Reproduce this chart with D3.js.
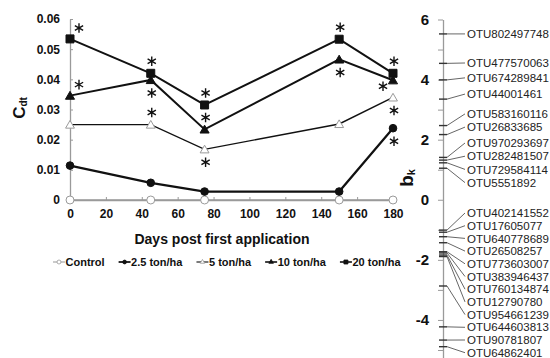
<!DOCTYPE html>
<html>
<head>
<meta charset="utf-8">
<script src="https://cdn.jsdelivr.net/npm/d3@7"></script>
<style>
body { margin: 0; background: #fff; }
svg { display: block; font-family: "Liberation Sans", Arial, sans-serif; }
</style>
</head>
<body>
<svg width="550" height="358"></svg>
<script>
// ~~~~~~ DATA ~~~~~~

// Left panel: C_dt per treatment over days
var days = [0, 45, 75, 150, 180];
var seriesNames = ["Control", "2.5 ton/ha", "5 ton/ha", "10 ton/ha", "20 ton/ha"];
var control = [0, 0, 0, 0, 0];
var ton2_5  = [0.0114, 0.0057, 0.0028, 0.0028, 0.0238];
var ton5    = [0.0250, 0.0250, 0.0168, 0.0252, 0.0340];
var ton10   = [0.0346, 0.0398, 0.0234, 0.0466, 0.0397];
var ton20   = [0.0534, 0.0420, 0.0315, 0.0533, 0.0420];
var xTicks = [0, 20, 40, 60, 80, 100, 120, 140, 160, 180];
var yTicks = [0, 0.01, 0.02, 0.03, 0.04, 0.05, 0.06];

// significance stars: [series index, day index, side]
var stars = [
	[4, 0, "upRight"], [3, 0, "upRight"],
	[4, 1, "up"], [3, 1, "down"], [2, 1, "up"],
	[4, 2, "up"], [3, 2, "up"], [2, 2, "down"],
	[4, 3, "up"], [3, 3, "down"],
	[4, 4, "up"], [3, 4, "downLeft"], [2, 4, "down"], [1, 4, "down"]
];

// Right panel: b_k per OTU
var otuNames = ["OTU802497748", "OTU477570063", "OTU674289841", "OTU44001461",
	"OTU583160116", "OTU26833685", "OTU970293697", "OTU282481507", "OTU729584114",
	"OTU5551892", "OTU402141552", "OTU17605077", "OTU640778689", "OTU26508257",
	"OTU773603007", "OTU383946437", "OTU760134874", "OTU12790780", "OTU954661239",
	"OTU644603813", "OTU90781807", "OTU64862401"];
var bkValues = [5.52, 4.54, 3.99, 3.35, 2.47, 2.17, 1.41, 1.32, 1.23, 1.05,
	-1.01, -1.08, -1.23, -1.43, -1.73, -1.77, -1.84, -1.89, -2.87, -4.23, -4.67, -4.89];
var bkTicks = [-5, -4, -3, -2, -1, 0, 1, 2, 3, 4, 5, 6];

// ~~~~~~ SVG ~~~~~~
var svg = d3.select("svg");
var ink = "#111", grey = "#9a9a9a";

// ~~~~~~ LEFT PANEL ~~~~~~
var x = d3.scaleLinear().domain([0, 180]).range([70, 393]);
var y = d3.scaleLinear().domain([0, 0.06]).range([200, 19]);

var left_g = svg.append("g");

var yAxis = left_g.append("g")
	.attr("transform", "translate(" + x(0) + ",0)")
	.call(d3.axisLeft(y).tickValues(yTicks).tickSizeInner(-3).tickSizeOuter(0).tickPadding(10)
		.tickFormat(function(d) { return d === 0 ? "0" : d3.format(".2f")(d); }));

var xAxis = left_g.append("g")
	.attr("transform", "translate(0," + y(0) + ")")
	.call(d3.axisBottom(x).tickValues(xTicks).tickSizeInner(-3).tickSizeOuter(0).tickPadding(9));

[xAxis, yAxis].forEach(function(a) {
	a.select(".domain").attr("stroke", grey).attr("stroke-width", 1.3);
	a.selectAll(".tick line").attr("stroke", grey);
	a.selectAll(".tick text")
		.attr("fill", ink)
		.style("font-weight", "bold")
		.style("font-size", "12px");
});

// axis titles
left_g.append("text")
	.attr("x", 222)
	.attr("y", 244)
	.attr("text-anchor", "middle")
	.style("font", "bold 14px 'Liberation Sans', Arial, sans-serif")
	.attr("fill", ink)
	.text("Days post first application");

var cLabel = left_g.append("text")
	.attr("transform", "translate(25,108) rotate(-90)")
	.attr("text-anchor", "middle")
	.attr("fill", ink)
	.style("font-weight", "bold");
cLabel.append("tspan").style("font-size", "17px").text("C");
cLabel.append("tspan").style("font-size", "10px").attr("dy", 2).text("dt");

// series styling
var seriesData = [control, ton2_5, ton5, ton10, ton20];
var styles = [
	{line: grey, width: 1.3, symbol: d3.symbolCircle, size: 50, fill: "#fff", stroke: grey},
	{line: ink, width: 2.2, symbol: d3.symbolCircle, size: 46, fill: ink, stroke: ink},
	{line: ink, width: 1.4, symbol: d3.symbolTriangle, size: 34, fill: "#fff", stroke: grey},
	{line: ink, width: 2, symbol: d3.symbolTriangle, size: 36, fill: ink, stroke: ink},
	{line: ink, width: 2, symbol: d3.symbolSquare, size: 64, fill: ink, stroke: ink}
];

var drawLine = d3.line()
	.x(function(d, i) { return x(days[i]); })
	.y(function(d) { return y(d); });

seriesData.forEach(function(vals, s) {
	var st = styles[s];
	left_g.append("path")
		.attr("d", drawLine(vals))
		.attr("fill", "none")
		.attr("stroke", st.line)
		.attr("stroke-width", st.width);
});

seriesData.forEach(function(vals, s) {
	var st = styles[s];
	left_g.selectAll(".pt" + s)
		.data(vals)
		.enter()
		.append("path")
		.attr("class", "pt" + s)
		.attr("transform", function(d, i) {
			var dy = st.symbol === d3.symbolTriangle ? 1 : 0;
			return "translate(" + x(days[i]) + "," + (y(d) + dy) + ")";
		})
		.attr("d", d3.symbol().type(st.symbol).size(st.size))
		.attr("fill", st.fill)
		.attr("stroke", st.stroke)
		.attr("stroke-width", 1);
});

// asterisks
var starOffset = {
	up: [1, -12], down: [1, 13], upRight: [9, -11], downLeft: [-10, 6]
};
left_g.selectAll(".star")
	.data(stars)
	.enter()
	.append("path")
	.attr("class", "star")
	.attr("transform", function(d) {
		var off = starOffset[d[2]];
		var v = seriesData[d[0]][d[1]];
		return "translate(" + (x(days[d[1]]) + off[0]) + "," + (y(v) + off[1]) + ")";
	})
	.attr("d", d3.symbol().type(d3.symbolAsterisk).size(64))
	.attr("fill", "none")
	.attr("stroke", ink)
	.attr("stroke-width", 1.4);

// legend
var legend_g = left_g.append("g").attr("transform", "translate(53,262)");
var lx = 0;
seriesNames.forEach(function(name, s) {
	var st = styles[s];
	var item = legend_g.append("g").attr("transform", "translate(" + lx + ",0)");
	item.append("line")
		.attr("x1", 0).attr("x2", 12)
		.attr("stroke", st.line)
		.attr("stroke-width", st.width * 0.8);
	item.append("path")
		.attr("transform", "translate(6,0)")
		.attr("d", d3.symbol().type(st.symbol).size(st.size / 4))
		.attr("fill", st.fill)
		.attr("stroke", st.stroke)
		.attr("stroke-width", 0.8);
	var t = item.append("text")
		.attr("x", 12.5)
		.attr("y", 4)
		.attr("fill", ink)
		.style("font", "bold 11px 'Liberation Sans', Arial, sans-serif")
		.text(name);
	lx += 12.5 + t.node().getComputedTextLength() + 14;
});

// ~~~~~~ RIGHT PANEL ~~~~~~
var bk = d3.scaleLinear().domain([-5.3, 6]).range([359, 19.5]);
var axisX = 443;

var right_g = svg.append("g");

var bkAxis = right_g.append("g")
	.attr("transform", "translate(" + axisX + ",0)")
	.call(d3.axisLeft(bk).tickValues(bkTicks).tickSize(5).tickSizeOuter(0).tickPadding(9)
		.tickFormat(function(d) { return d % 2 === 0 ? String(d) : ""; }));
bkAxis.select(".domain").attr("stroke", grey).attr("stroke-width", 1.3);
bkAxis.selectAll(".tick line").attr("stroke", grey);
bkAxis.selectAll(".tick text")
	.attr("fill", ink)
	.style("font-weight", "bold")
	.style("font-size", "15px");

var bLabel = right_g.append("text")
	.attr("transform", "translate(413,178) rotate(-90)")
	.attr("text-anchor", "middle")
	.attr("fill", ink)
	.style("font-weight", "bold");
bLabel.append("tspan").style("font-size", "19px").text("b");
bLabel.append("tspan").style("font-size", "11px").attr("dy", 2).text("k");

// spread labels so they do not overlap
function spread(targets, gap, lo, hi, both) {
	var n = targets.length, i;
	var down = targets.slice(), up = targets.slice();
	for (i = 1; i < n; i++) down[i] = Math.max(down[i], down[i - 1] + gap);
	for (i = n - 2; i >= 0; i--) up[i] = Math.min(up[i], up[i + 1] - gap);
	var out = both ? down.map(function(d, k) { return (d + up[k]) / 2; }) : down;
	out[n - 1] = Math.min(out[n - 1], hi);
	for (i = n - 2; i >= 0; i--) out[i] = Math.min(out[i], out[i + 1] - gap);
	out[0] = Math.max(out[0], lo);
	for (i = 1; i < n; i++) out[i] = Math.max(out[i], out[i - 1] + gap);
	return out;
}

var otus = otuNames.map(function(n, i) { return {name: n, v: bkValues[i], y: bk(bkValues[i])}; });
var pos = otus.filter(function(d) { return d.v > 0; });
var neg = otus.filter(function(d) { return d.v < 0; });
spread(pos.map(function(d) { return d.y; }), 13.2, 30, 195, true)
	.forEach(function(ly, i) { pos[i].ly = ly; });
spread(neg.map(function(d) { return d.y; }), 12.7, 205, 352.7, false)
	.forEach(function(ly, i) { neg[i].ly = ly; });

right_g.selectAll(".leader")
	.data(otus)
	.enter()
	.append("line")
	.attr("class", "leader")
	.attr("x1", axisX + 4).attr("y1", function(d) { return d.y; })
	.attr("x2", axisX + 22).attr("y2", function(d) { return d.ly; })
	.attr("stroke", "#555")
	.attr("stroke-width", 0.9);

right_g.selectAll(".mark")
	.data(otus)
	.enter()
	.append("line")
	.attr("class", "mark")
	.attr("x1", axisX - 4).attr("x2", axisX + 4)
	.attr("y1", function(d) { return d.y; })
	.attr("y2", function(d) { return d.y; })
	.attr("stroke", "#333")
	.attr("stroke-width", 1.4);

right_g.selectAll(".otu")
	.data(otus)
	.enter()
	.append("text")
	.attr("class", "otu")
	.attr("x", axisX + 24)
	.attr("y", function(d) { return d.ly; })
	.attr("dy", "0.36em")
	.attr("fill", "#222")
	.style("font-size", "11.5px")
	.text(function(d) { return d.name; });
</script>
</body>
</html>
